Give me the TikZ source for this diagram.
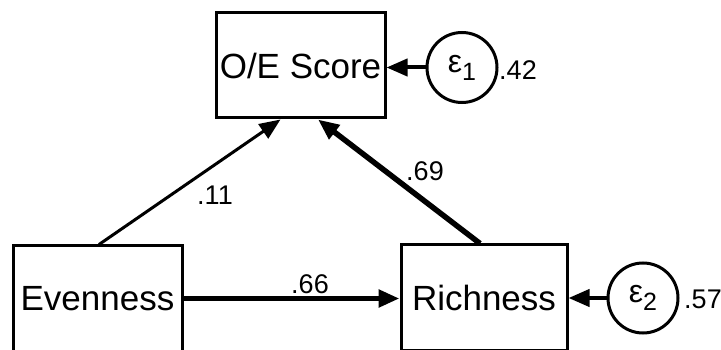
\documentclass[tikz,border=0pt]{standalone}
\usepackage{fontspec}
\setmainfont{Liberation Sans}
\usetikzlibrary{arrows.meta}
\tikzset{
  varbox/.style={draw, line width=3pt, minimum height=105pt, inner sep=0pt, font=\fontsize{35}{35}\selectfont},
  errcirc/.style={draw, circle, line width=3pt, minimum size=70pt, inner sep=0pt},
  coef/.style={inner sep=0pt, font=\fontsize{27}{27}\selectfont},
  thinpath/.style={line width=3pt, -{Triangle[length=21pt,width=17pt]}},
  thickpath/.style={line width=5.5pt, -{Triangle[length=21pt,width=17pt]}},
}
\newcommand{\errlabel}[1]{{\fontsize{32}{32}\selectfont ε}{\fontsize{25}{25}\selectfont\raisebox{-8pt}{#1}}}
\begin{document}
\begin{tikzpicture}[x=1pt,y=-1pt]
\useasboundingbox (0,0) rectangle (721,350);
\node[varbox, minimum width=169pt] (oe) at (300.5,65.5) {O/E Score};
\node[varbox, minimum width=169pt] (ev) at (97.5,298.5) {Evenness};
\node[varbox, minimum width=166pt] (ri) at (484,297.5) {Richness};
\node[errcirc] (e1) at (462,67.5) {\errlabel{1}};
\node[errcirc] (e2) at (643,298) {\errlabel{2}};
\draw[thinpath] ([xshift=1.5pt]ev.north) -- ([xshift=-20pt]oe.south);
\draw[thickpath] ([xshift=-4pt]ri.north) -- ([xshift=17.5pt]oe.south);
\draw[thickpath] (ev.east) -- (ev.east -| ri.west);
\draw[line width=4pt, -{Triangle[length=21pt,width=17pt]}] (e1.west) -- (e1.west -| oe.east);
\draw[line width=4pt, -{Triangle[length=21pt,width=17pt]}] (e2.west) -- (e2.west -| ri.east);
\node[coef] (c11) at (215,195) {.11};
\node[coef] (c69) at (425,171) {.69};
\node[coef] (c66) at (310,284) {.66};
\node[coef] (c42) at (518,70) {.42};
\node[coef] (c57) at (703,299) {.57};
\end{tikzpicture}
\end{document}
